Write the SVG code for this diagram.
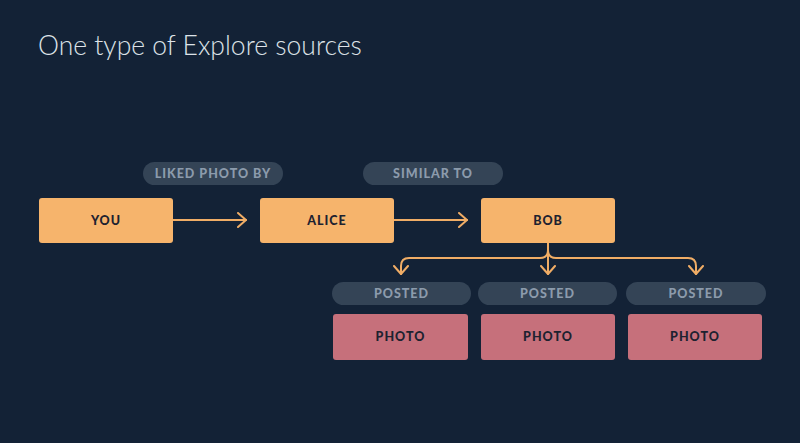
<svg xmlns="http://www.w3.org/2000/svg" width="800" height="443" viewBox="0 0 800 443">
<defs>
<style>
.bg{fill:#132236}
.src{fill:#f6b46c}
.pho{fill:#c6707b}
.pill{fill:#344456}
.nt{font-family:Lato,"Open Sans",sans-serif;font-weight:900;font-size:12.5px;fill:#1d2230;text-anchor:middle;letter-spacing:1px}
.pt{font-family:Lato,"Open Sans",sans-serif;font-weight:900;font-size:12.5px;fill:#8c9bac;text-anchor:middle;letter-spacing:1px}
.ln{fill:none;stroke:#f0ad66;stroke-width:2;stroke-linecap:round;stroke-linejoin:round}
</style>
<marker id="ah" viewBox="0 0 10 16" refX="9" refY="8" markerWidth="10" markerHeight="16" markerUnits="userSpaceOnUse" orient="auto">
<path d="M1,1 L9,8 L1,15" fill="none" stroke="#f0ad66" stroke-width="2" stroke-linecap="round" stroke-linejoin="round"/>
</marker>
</defs>
<rect class="bg" x="0" y="0" width="800" height="443"/>
<text x="38" y="55" font-family="Lato,'Open Sans',sans-serif" font-weight="300" font-size="26.5" fill="#dde2e8">One type of Explore sources</text>

<g id="connectors">
<line class="ln" x1="173" y1="220" x2="246" y2="220" marker-end="url(#ah)"/>
<line class="ln" x1="394" y1="220" x2="467" y2="220" marker-end="url(#ah)"/>
<path class="ln" d="M548,243 V274" marker-end="url(#ah)"/>
<path class="ln" d="M548,250 Q548,258 540,258 H409 Q401,258 401,266 V274" marker-end="url(#ah)"/>
<path class="ln" d="M548,250 Q548,258 556,258 H688 Q696,258 696,266 V274" marker-end="url(#ah)"/>
</g>

<g id="label-liked">
<rect class="pill" x="143" y="162" width="140" height="23" rx="11.5"/>
<text class="pt" x="213" y="178">LIKED PHOTO BY</text>
</g>
<g id="label-similar">
<rect class="pill" x="363" y="162" width="140" height="23" rx="11.5"/>
<text class="pt" x="433" y="178">SIMILAR TO</text>
</g>

<g id="node-you">
<rect class="src" x="39" y="198" width="134" height="45" rx="3"/>
<text class="nt" x="106" y="225">YOU</text>
</g>
<g id="node-alice">
<rect class="src" x="260" y="198" width="134" height="45" rx="3"/>
<text class="nt" x="327" y="225">ALICE</text>
</g>
<g id="node-bob">
<rect class="src" x="481" y="198" width="134" height="45" rx="3"/>
<text class="nt" x="548" y="225">BOB</text>
</g>

<g id="label-posted-1">
<rect class="pill" x="332" y="282" width="139" height="23" rx="11.5"/>
<text class="pt" x="401.5" y="298">POSTED</text>
</g>
<g id="label-posted-2">
<rect class="pill" x="478" y="282" width="139" height="23" rx="11.5"/>
<text class="pt" x="547.5" y="298">POSTED</text>
</g>
<g id="label-posted-3">
<rect class="pill" x="626" y="282" width="140" height="23" rx="11.5"/>
<text class="pt" x="696" y="298">POSTED</text>
</g>

<g id="node-photo-1">
<rect class="pho" x="333" y="314" width="135" height="46" rx="3"/>
<text class="nt" x="400.5" y="341">PHOTO</text>
</g>
<g id="node-photo-2">
<rect class="pho" x="481" y="314" width="134" height="46" rx="3"/>
<text class="nt" x="548" y="341">PHOTO</text>
</g>
<g id="node-photo-3">
<rect class="pho" x="628" y="314" width="134" height="46" rx="3"/>
<text class="nt" x="695" y="341">PHOTO</text>
</g>
</svg>
